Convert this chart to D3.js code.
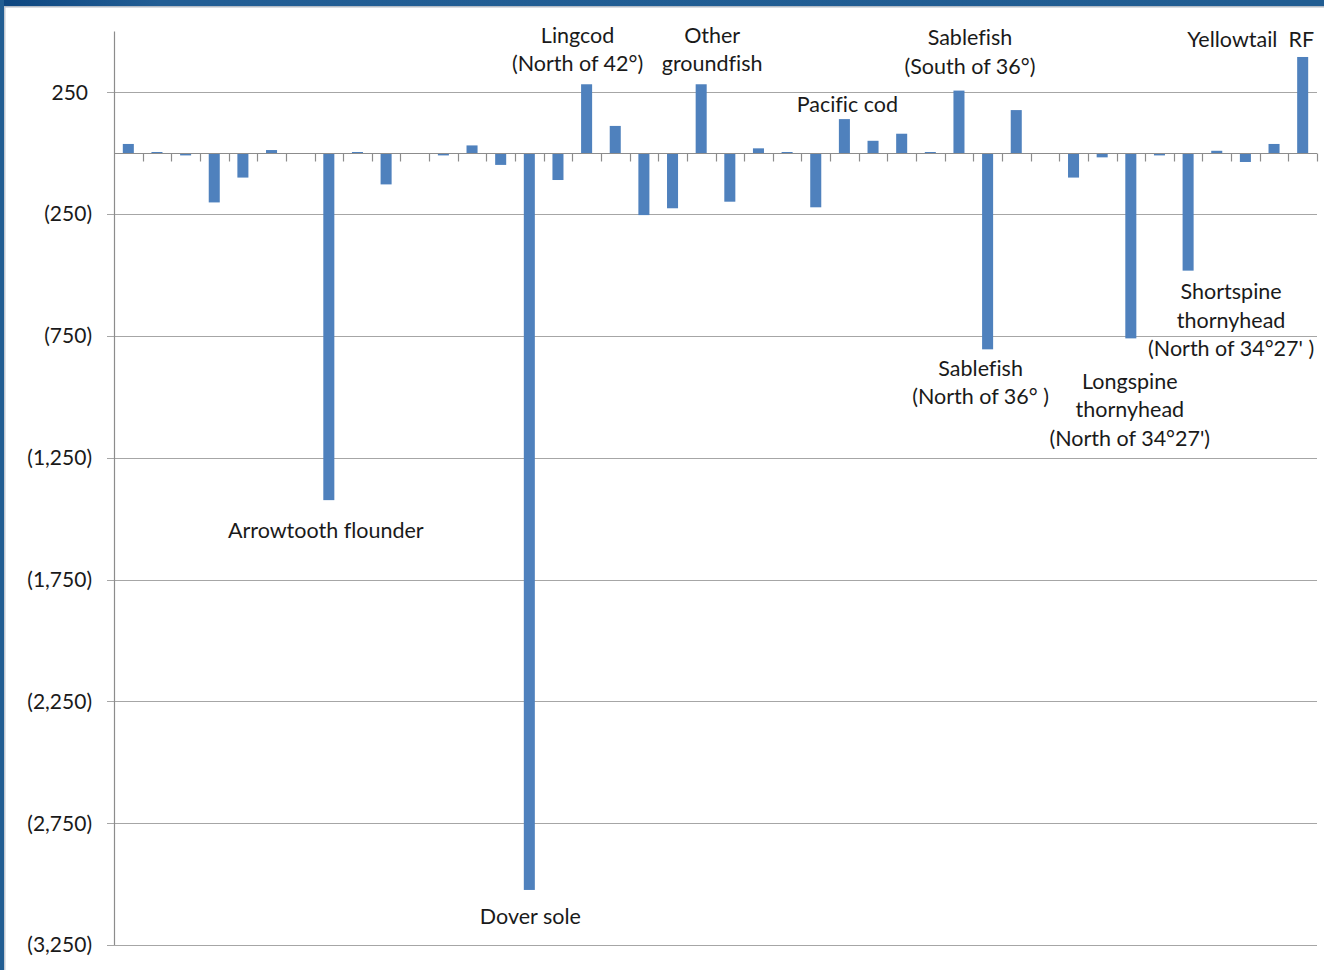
<!DOCTYPE html>
<html>
<head>
<meta charset="utf-8">
<script src="https://cdn.jsdelivr.net/npm/d3@7"></script>
<style>
  html, body { margin: 0; padding: 0; background: #ffffff; }
  svg { display: block; }
  text { font-family: Lato, "Noto Sans", sans-serif; fill: #1a1a1a; font-variant-ligatures: none; }
</style>
</head>
<body>
<svg id="chart" width="1324" height="970"></svg>
<script>
// Stock-level change (mt); unlabelled stocks are listed by position.
const categories = [
  "Stock 01", "Stock 02", "Stock 03", "Stock 04", "Stock 05", "Stock 06",
  "Stock 07", "Arrowtooth flounder", "Stock 09", "Stock 10", "Stock 11",
  "Stock 12", "Stock 13", "Stock 14", "Dover sole", "Stock 16",
  "Lingcod (North of 42°)", "Stock 18", "Stock 19", "Stock 20",
  "Other groundfish", "Stock 22", "Stock 23", "Stock 24", "Stock 25",
  "Pacific cod", "Stock 27", "Stock 28", "Stock 29",
  "Sablefish (South of 36°)", "Sablefish (North of 36°)", "Stock 32",
  "Stock 33", "Stock 34", "Stock 35",
  "Longspine thornyhead (North of 34°27')", "Stock 37",
  "Shortspine thornyhead (North of 34°27')", "Stock 39", "Stock 40",
  "Stock 41", "Yellowtail RF"
];

const values = [
   38,    5,   -9, -202, -100,   13,    0, -1424,    5, -128,
    0,   -9,   32,  -48, -3024, -110,  283,   112, -254, -226,
  283, -199,   20,    5, -222,  140,   51,    80,    5,  257,
 -805,  177,    0, -100,  -17, -760,   -9,  -482,   10,  -36,
   38,  395
];

const yTicks = [250, -250, -750, -1250, -1750, -2250, -2750, -3250];

// Callout text for the named stocks, keyed by category index
const calloutIndex = [7, 14, 16, 20, 25, 29, 30, 35, 37, 41];
const calloutLines = [
  ["Arrowtooth flounder"],
  ["Dover sole"],
  ["Lingcod", "(North of 42°)"],
  ["Other", "groundfish"],
  ["Pacific cod"],
  ["Sablefish", "(South of 36°)"],
  ["Sablefish", "(North of 36° )"],
  ["Longspine", "thornyhead", "(North of 34°27')"],
  ["Shortspine", "thornyhead", "(North of 34°27' )"],
  ["Yellowtail  RF"]
];
// Placement of each callout's first line relative to the bar end
const calloutOffset = [
  [-3, 30], [1, 27], [-9, -49], [11, -49], [3, -15],
  [11, -53], [-7, 19], [-1, 43], [43, 21], [-52, -18]
];

const svg = d3.select("#chart");
const W = 1324, H = 970;
const margin = { left: 114, right: 7, top: 31.4, bottom: 25 };
const plotRight = W - margin.right;
const plotBottom = H - margin.bottom;

// Slide frame along the top and left edges
const defs = svg.append("defs");
const grad = defs.append("linearGradient").attr("id", "frameGrad")
  .attr("x1", "0").attr("x2", "1").attr("y1", "0").attr("y2", "0");
grad.append("stop").attr("offset", "0").attr("stop-color", "#0d4680");
grad.append("stop").attr("offset", "0.12").attr("stop-color", "#225e95");
grad.append("stop").attr("offset", "1").attr("stop-color", "#215d92");
svg.append("rect").attr("x", 0).attr("y", 0).attr("width", W).attr("height", 6)
  .attr("fill", "url(#frameGrad)");
svg.append("rect").attr("x", 0).attr("y", 6).attr("width", W).attr("height", 1.5)
  .attr("fill", "#b4bcc6");
svg.append("rect").attr("x", 0).attr("y", 0).attr("width", 4).attr("height", H)
  .attr("fill", "#215d92");
svg.append("rect").attr("x", 4).attr("y", 7).attr("width", 1.5).attr("height", H)
  .attr("fill", "#c4cad2");

const x = d3.scaleBand()
  .domain(d3.range(categories.length))
  .range([margin.left, plotRight])
  .paddingInner(0.615)
  .paddingOuter(0.3075);

const xStep = d3.scaleBand()
  .domain(d3.range(categories.length))
  .range([margin.left, plotRight]);

const y = d3.scaleLinear()
  .domain([-3250, 500])
  .range([plotBottom, margin.top]);

const fmt = v => v < 0 ? "(" + d3.format(",")(-v) + ")" : d3.format(",")(v);

// Horizontal gridlines with short outer ticks
const grid = svg.append("g");
grid.selectAll("line.grid").data(yTicks).join("line")
  .attr("class", "grid")
  .attr("x1", margin.left - 7).attr("x2", plotRight)
  .attr("y1", d => Math.round(y(d)) + 0.5).attr("y2", d => Math.round(y(d)) + 0.5)
  .attr("stroke", "#a6a6a6").attr("stroke-width", 1.2);

grid.selectAll("text.ylab").data(yTicks).join("text")
  .attr("class", "ylab")
  .attr("x", d => d < 0 ? 92 : 88)
  .attr("y", d => y(d))
  .attr("dy", "0.35em")
  .attr("text-anchor", "end")
  .style("font-size", "21px")
  .text(fmt);

// Vertical axis
svg.append("line")
  .attr("x1", margin.left + 0.5).attr("x2", margin.left + 0.5)
  .attr("y1", margin.top).attr("y2", plotBottom)
  .attr("stroke", "#8c8c8c").attr("stroke-width", 1.2);

// Bars
svg.append("g").selectAll("rect").data(values).join("rect")
  .attr("x", (d, i) => x(i))
  .attr("width", x.bandwidth())
  .attr("y", d => y(Math.max(0, d)))
  .attr("height", d => Math.abs(y(d) - y(0)))
  .attr("fill", "#4f81bd");

// Zero line with category tick marks
const zeroY = Math.round(y(0)) + 0.5;
svg.append("line")
  .attr("x1", margin.left).attr("x2", plotRight)
  .attr("y1", zeroY).attr("y2", zeroY)
  .attr("stroke", "#8c8c8c").attr("stroke-width", 1.2);
svg.append("g").selectAll("line").data(d3.range(1, categories.length + 1)).join("line")
  .attr("x1", d => Math.round(xStep(d - 1) + xStep.bandwidth()) + 0.5)
  .attr("x2", d => Math.round(xStep(d - 1) + xStep.bandwidth()) + 0.5)
  .attr("y1", zeroY).attr("y2", zeroY + 8)
  .attr("stroke", "#8c8c8c").attr("stroke-width", 1.2);

// Callouts
const callouts = svg.append("g");
calloutIndex.forEach((ci, k) => {
  const cx = x(ci) + x.bandwidth() / 2 + calloutOffset[k][0];
  const cy = y(values[ci]) + calloutOffset[k][1];
  const t = callouts.append("text")
    .attr("text-anchor", "middle")
    .style("font-size", "21.5px");
  calloutLines[k].forEach((line, j) => {
    t.append("tspan")
      .attr("x", cx)
      .attr("y", cy + j * 28.6)
      .attr("dy", "0.35em")
      .attr("xml:space", "preserve")
      .style("white-space", "pre")
      .text(line);
  });
});
</script>
</body>
</html>
